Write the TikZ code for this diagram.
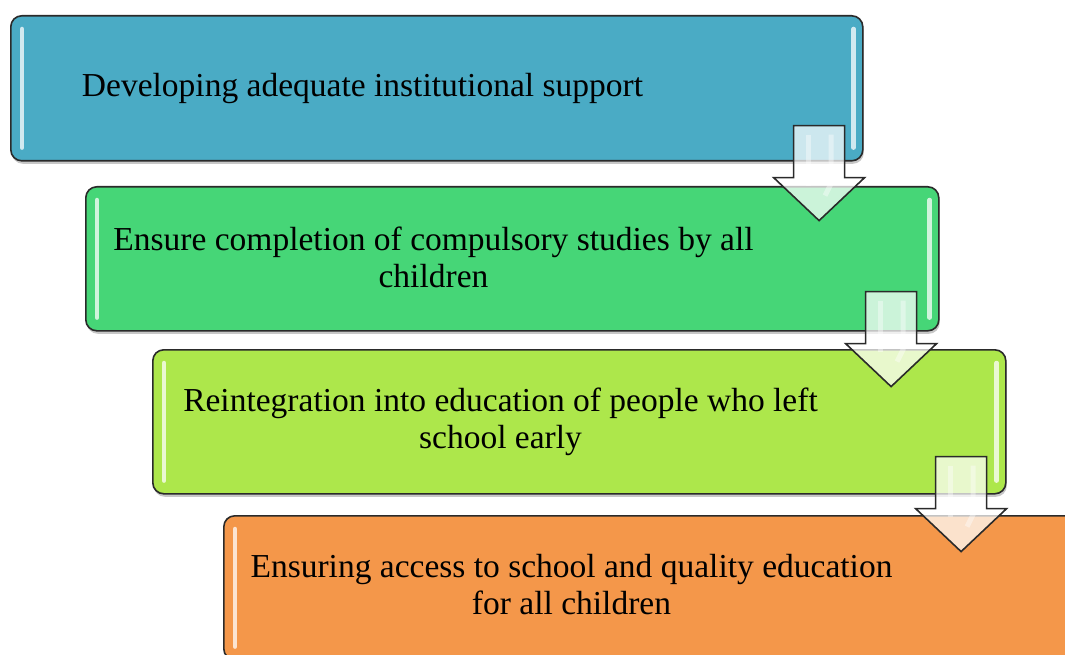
\documentclass[tikz,border=0pt]{standalone}
\usepackage{fontspec}
\setmainfont{Liberation Serif}
\usetikzlibrary{shadows}
\definecolor{cA}{HTML}{4AABC5}
\definecolor{cB}{HTML}{46D677}
\definecolor{cC}{HTML}{ADE74B}
\definecolor{cD}{HTML}{F4974A}
\definecolor{edge}{HTML}{2A2A2A}
\begin{document}
\begin{tikzpicture}[x=1pt,y=-1pt,
  box/.style={draw=edge, line width=1.6pt, rounded corners=11pt,
    minimum width=853pt, minimum height=144pt, inner sep=0pt, anchor=north west,
    drop shadow={shadow xshift=1pt, shadow yshift=-3pt, opacity=0.22, fill=black}},
  lbl/.style={font=\fontsize{33.5}{37}\selectfont, align=center, inner sep=0pt, anchor=base},
  stripe/.style={draw=white, line width=4.5pt, line cap=round, opacity=0.75},
  arrowbody/.style={fill=white, fill opacity=0.72, draw=edge, line width=1.6pt, line join=miter},
  gloss/.style={draw=white, line width=5pt, opacity=0.4},
  downarrow/.pic={
    \path[arrowbody] (-25.5,0) -- (25.5,0) -- (25.5,52) -- (45.5,52) -- (0,95)
      -- (-45.5,52) -- (-25.5,52) -- cycle;
    \path[gloss] (-11,9) -- (-11,60);
    \path[gloss] (12,9) -- (12,58) -- (6,70);
  }]
\useasboundingbox (0,0) rectangle (1065,655);
\clip (0,0) rectangle (1065,655);

\node[box, fill=cA, minimum width=852pt, minimum height=145pt] (b1) at (10,15) {};
\node[box, fill=cB] (b2) at (85,186) {};
\node[box, fill=cC] (b3) at (152,349) {};
\node[box, fill=cD] (b4) at (223,515) {};

\foreach \b in {b1,b2,b3,b4}{
  \draw[stripe] ([shift={(12,14)}]\b.north west) -- ([shift={(12,-14)}]\b.south west);
  \draw[stripe] ([shift={(-10,14)}]\b.north east) -- ([shift={(-10,-14)}]\b.south east);
}

\node[lbl] (t1) at (362.5,97) {Developing adequate institutional support};
\node[lbl] (t2) at (433.5,287) {Ensure completion of compulsory studies by all\\children};
\node[lbl] (t3) at (500.5,448) {Reintegration into education of people who left\\school early};
\node[lbl] (t4) at (571.5,614) {Ensuring access to school and quality education\\for all children};

\pic at ([shift={(-44.5,-36)}]b1.south east) {downarrow};
\pic at ([shift={(-48.5,-40)}]b2.south east) {downarrow};
\pic at ([shift={(-45.5,-38)}]b3.south east) {downarrow};
\end{tikzpicture}
\end{document}
